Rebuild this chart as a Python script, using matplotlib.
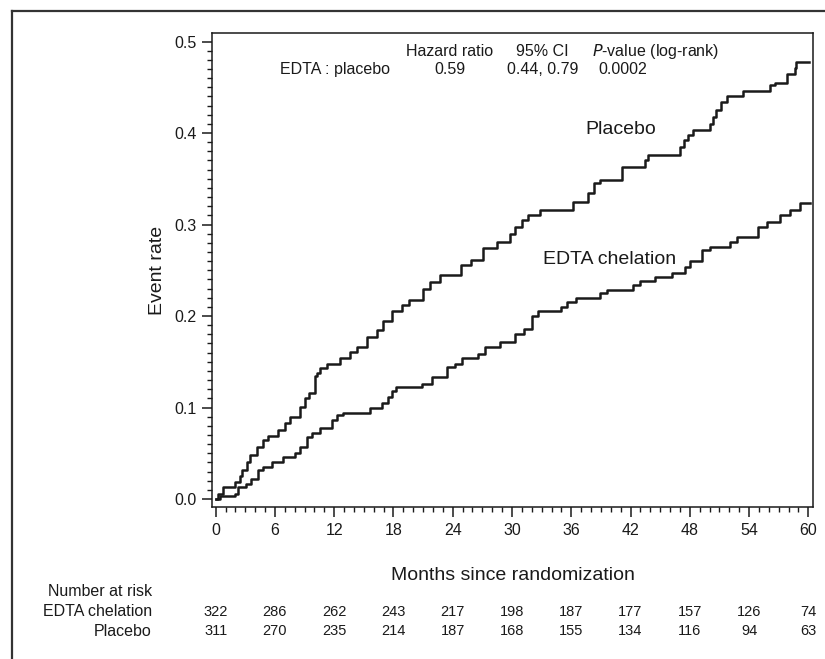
import numpy as np
import matplotlib
matplotlib.use("Agg")
import matplotlib.pyplot as plt
from matplotlib.lines import Line2D
from matplotlib.ticker import MultipleLocator
from matplotlib import font_manager

plt.rcParams['font.family'] = ['Liberation Sans', 'DejaVu Sans']

# --- dati (curve di Kaplan-Meier cumulative) ---
placebo_t = [0, 0.25, 0.75, 2.0, 2.5, 2.7, 3.2, 3.5, 4.2, 4.8, 5.3, 6.3, 7.0, 7.5, 8.5, 9.0,
             9.5, 10.1, 10.3, 10.6, 11.3, 12.6, 13.6, 14.3, 15.3, 16.3, 16.9, 17.9, 18.9,
             19.6, 21.0, 21.7, 22.7, 24.8, 25.8, 27.1, 28.5, 29.8, 30.3, 31.0, 31.6, 32.8,
             36.2, 37.7, 38.3, 38.9, 41.1, 43.5, 43.8, 47.0, 47.4, 47.8, 48.3, 50.0, 50.3,
             50.7, 51.2, 51.8, 53.4, 56.1, 56.6, 57.8, 58.6, 58.8, 60.1]
placebo_r = [0, 0.005, 0.013, 0.019, 0.025, 0.032, 0.040, 0.048, 0.057, 0.0645, 0.069, 0.075,
             0.083, 0.090, 0.101, 0.110, 0.1155, 0.135, 0.138, 0.143, 0.148, 0.154, 0.161,
             0.166, 0.177, 0.185, 0.195, 0.205, 0.212, 0.2175, 0.230, 0.2375, 0.245, 0.256,
             0.261, 0.274, 0.281, 0.290, 0.297, 0.305, 0.310, 0.316, 0.325, 0.335, 0.345,
             0.349, 0.363, 0.370, 0.376, 0.385, 0.392, 0.398, 0.403, 0.410, 0.417, 0.425,
             0.434, 0.440, 0.446, 0.4525, 0.455, 0.465, 0.471, 0.478, 0.478]

edta_t = [0, 0.4, 2.0, 2.3, 3.1, 3.6, 4.3, 4.8, 5.7, 6.8, 8.0, 8.5, 9.2, 9.8, 10.6, 11.8,
          12.3, 12.9, 15.6, 16.8, 17.4, 17.9, 18.3, 20.9, 21.9, 23.4, 24.2, 24.9, 26.6,
          27.3, 28.8, 30.3, 31.2, 32.0, 32.6, 35.0, 35.6, 36.5, 38.9, 39.6, 42.3, 43.0,
          44.5, 46.2, 47.5, 48.0, 49.2, 50.0, 52.1, 52.8, 54.9, 55.8, 57.1, 58.1, 59.2, 60.2]
edta_r = [0, 0.003, 0.006, 0.0135, 0.017, 0.022, 0.032, 0.035, 0.040, 0.046, 0.050, 0.057,
          0.068, 0.072, 0.0775, 0.086, 0.092, 0.0937, 0.099, 0.1045, 0.112, 0.118, 0.1227,
          0.126, 0.1337, 0.1446, 0.148, 0.154, 0.159, 0.1665, 0.172, 0.180, 0.186, 0.200,
          0.205, 0.210, 0.215, 0.220, 0.2248, 0.229, 0.234, 0.2386, 0.2423, 0.2466, 0.254,
          0.2605, 0.272, 0.2757, 0.281, 0.2867, 0.2976, 0.303, 0.3104, 0.316, 0.323, 0.323]

mesi = [0, 6, 12, 18, 24, 30, 36, 42, 48, 54, 60]
rischio_edta = [322, 286, 262, 243, 217, 198, 187, 177, 157, 126, 74]
rischio_placebo = [311, 270, 235, 214, 187, 168, 155, 134, 116, 94, 63]

nero = '#1a1a1a'

# font stretto per i numeri a rischio, se disponibile
nomi = {f.name for f in font_manager.fontManager.ttflist}
font_numeri = ['Liberation Sans Narrow', 'Liberation Sans'] if 'Liberation Sans Narrow' in nomi else ['Liberation Sans']
dim_numeri = 11.5 if 'Liberation Sans Narrow' in nomi else 10.5

fig = plt.figure(figsize=(8.25, 6.59), dpi=100)
ax = fig.add_axes([0.2566, 0.2302, 0.7292, 0.7193])

ax.plot(placebo_t, placebo_r, drawstyle='steps-post', color=nero, lw=1.8)
ax.plot(edta_t, edta_r, drawstyle='steps-post', color=nero, lw=1.8)

ax.set_xlim(-0.4, 60.5)
ax.set_ylim(-0.009, 0.509)
ax.set_xticks(mesi)
ax.xaxis.set_minor_locator(MultipleLocator(1))
ax.set_yticks(np.arange(0, 0.51, 0.1))
ax.yaxis.set_minor_locator(MultipleLocator(0.01))
ax.set_yticklabels([f"{v:.1f}" for v in np.arange(0, 0.51, 0.1)])
ax.tick_params(which='major', length=7, width=1.1, labelsize=11.5, color=nero, labelcolor=nero, pad=4)
ax.tick_params(which='minor', length=3.5, width=1.0, color=nero)
for s in ax.spines.values():
    s.set_linewidth(1.1)
    s.set_color(nero)

ax.set_xlabel("Months since randomization", fontsize=14, color=nero)
ax.xaxis.set_label_coords(0.5, -0.125)
ax.set_ylabel("Event rate", fontsize=14, color=nero)
ax.yaxis.set_label_coords(-0.076, 0.5)

# tabella hazard ratio
ax.text(23.7, 0.4889, "Hazard ratio", ha='center', va='center', fontsize=11.5, color=nero)
ax.text(33.1, 0.4889, "95% CI", ha='center', va='center', fontsize=11.5, color=nero)
ax.text(38.1, 0.4889, "$\\it{P}$-value (log-rank)", ha='left', va='center', fontsize=11.5, color=nero)
ax.text(17.7, 0.4689, "EDTA : placebo", ha='right', va='center', fontsize=11.5, color=nero)
ax.text(23.7, 0.4689, "0.59", ha='center', va='center', fontsize=11.5, color=nero)
ax.text(33.1, 0.4689, "0.44, 0.79", ha='center', va='center', fontsize=11.5, color=nero)
ax.text(41.2, 0.4689, "0.0002", ha='center', va='center', fontsize=11.5, color=nero)

ax.text(41.0, 0.404, "Placebo", ha='center', va='center', fontsize=14, color=nero)
ax.text(39.9, 0.262, "EDTA chelation", ha='center', va='center', fontsize=14, color=nero)

# numero a rischio
trans = ax.get_xaxis_transform()
fig.text(0.1842, 1 - 592 / 659, "Number at risk", ha='right', va='center', fontsize=11.5, color=nero)
fig.text(0.1842, 1 - 612 / 659, "EDTA chelation", ha='right', va='center', fontsize=11.5, color=nero)
fig.text(0.1842, 1 - 631 / 659, "Placebo", ha='right', va='center', fontsize=11.5, color=nero)
for m, a, b in zip(mesi, rischio_edta, rischio_placebo):
    ax.text(m, -0.2215, str(a), transform=trans, ha='center', va='center', fontsize=dim_numeri,
            family=font_numeri, color=nero, clip_on=False)
    ax.text(m, -0.261, str(b), transform=trans, ha='center', va='center', fontsize=dim_numeri,
            family=font_numeri, color=nero, clip_on=False)

# cornice esterna (solo lato sinistro e superiore)
fig.add_artist(Line2D([12 / 825, 12 / 825], [0, 1 - 10.5 / 659], transform=fig.transFigure,
                      color='#333333', lw=1.6))
fig.add_artist(Line2D([12 / 825, 1], [1 - 10.5 / 659, 1 - 10.5 / 659], transform=fig.transFigure,
                      color='#333333', lw=1.6))

fig.savefig("out.png", dpi=100)
